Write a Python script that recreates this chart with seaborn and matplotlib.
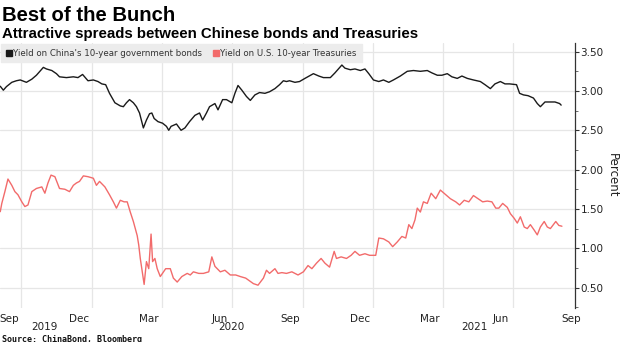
import numpy as np
import pandas as pd
import matplotlib
matplotlib.use("Agg")
import matplotlib.pyplot as plt
import matplotlib.dates as mdates
import matplotlib.transforms as mtransforms
from matplotlib.ticker import MultipleLocator
from matplotlib.lines import Line2D
import seaborn as sns

# ---------------- data ----------------
china_dates = [
    "2019-09-04", "2019-09-08", "2019-09-12", "2019-09-19", "2019-09-25", "2019-09-30",
    "2019-10-08", "2019-10-15", "2019-10-21", "2019-10-30", "2019-11-03", "2019-11-10",
    "2019-11-16", "2019-11-20", "2019-11-29", "2019-12-08", "2019-12-14", "2019-12-20",
    "2019-12-27", "2020-01-03", "2020-01-09", "2020-01-14", "2020-01-19", "2020-01-24",
    "2020-01-31", "2020-02-07", "2020-02-11", "2020-02-15", "2020-02-19", "2020-02-24",
    "2020-02-28", "2020-03-03", "2020-03-08", "2020-03-12", "2020-03-16", "2020-03-19",
    "2020-03-22", "2020-03-27", "2020-04-02", "2020-04-07", "2020-04-10", "2020-04-13",
    "2020-04-20", "2020-04-26", "2020-05-01", "2020-05-07", "2020-05-14", "2020-05-20",
    "2020-05-24", "2020-05-29", "2020-06-02", "2020-06-09", "2020-06-13", "2020-06-19",
    "2020-06-24", "2020-07-01", "2020-07-05", "2020-07-09", "2020-07-14", "2020-07-20",
    "2020-07-25", "2020-07-31", "2020-08-06", "2020-08-13", "2020-08-19", "2020-08-26",
    "2020-09-01", "2020-09-06", "2020-09-10", "2020-09-14", "2020-09-21", "2020-09-27",
    "2020-10-04", "2020-10-15", "2020-10-22", "2020-10-28", "2020-11-06", "2020-11-12",
    "2020-11-21", "2020-11-25", "2020-12-02", "2020-12-08", "2020-12-15", "2020-12-21",
    "2020-12-26", "2021-01-01", "2021-01-08", "2021-01-14", "2021-01-21", "2021-01-27",
    "2021-02-05", "2021-02-14", "2021-02-22", "2021-03-03", "2021-03-12", "2021-03-18",
    "2021-03-25", "2021-03-31", "2021-04-07", "2021-04-13", "2021-04-20", "2021-04-26",
    "2021-05-03", "2021-05-11", "2021-05-20", "2021-05-26", "2021-06-02", "2021-06-08",
    "2021-06-15", "2021-06-21", "2021-06-27", "2021-07-06", "2021-07-10", "2021-07-15",
    "2021-07-21", "2021-07-28", "2021-08-02", "2021-08-06", "2021-08-12", "2021-08-18",
    "2021-08-25", "2021-08-31", "2021-09-02",
]
china_yield = [
    3.06, 3.01, 3.055, 3.11, 3.13, 3.14,
    3.11, 3.15, 3.20, 3.30, 3.28, 3.26,
    3.22, 3.18, 3.17, 3.18, 3.17, 3.21,
    3.13, 3.14, 3.12, 3.09, 3.08, 2.97,
    2.85, 2.81, 2.80, 2.85, 2.89, 2.85,
    2.80, 2.72, 2.53, 2.63, 2.71, 2.72,
    2.65, 2.61, 2.59, 2.55, 2.50, 2.55,
    2.58, 2.50, 2.53, 2.61, 2.69, 2.72,
    2.63, 2.72, 2.80, 2.84, 2.76, 2.89,
    2.89, 2.85, 2.97, 3.07, 3.01, 2.93,
    2.88, 2.95, 2.98, 2.97, 2.99, 3.03,
    3.08, 3.13, 3.12, 3.13, 3.11, 3.12,
    3.16, 3.22, 3.19, 3.17, 3.17, 3.23,
    3.33, 3.29, 3.27, 3.28, 3.26, 3.28,
    3.22, 3.14, 3.12, 3.14, 3.11, 3.14,
    3.19, 3.25, 3.26, 3.25, 3.26, 3.23,
    3.20, 3.20, 3.22, 3.18, 3.16, 3.19,
    3.16, 3.14, 3.12, 3.08, 3.03, 3.09,
    3.12, 3.09, 3.09, 3.08, 2.97, 2.95,
    2.94, 2.91, 2.84, 2.80, 2.86, 2.86,
    2.86, 2.84, 2.82,
]

us_dates = [
    "2019-09-04", "2019-09-06", "2019-09-10", "2019-09-14", "2019-09-19", "2019-09-23",
    "2019-09-27", "2019-10-02", "2019-10-06", "2019-10-10", "2019-10-15", "2019-10-21",
    "2019-10-28", "2019-11-01", "2019-11-05", "2019-11-09", "2019-11-14", "2019-11-20",
    "2019-11-27", "2019-12-03", "2019-12-08", "2019-12-12", "2019-12-16", "2019-12-21",
    "2019-12-27", "2020-01-03", "2020-01-07", "2020-01-11", "2020-01-18", "2020-01-24",
    "2020-01-29", "2020-02-02", "2020-02-07", "2020-02-12", "2020-02-16", "2020-02-20",
    "2020-02-24", "2020-02-29", "2020-03-02", "2020-03-04", "2020-03-06", "2020-03-09",
    "2020-03-12", "2020-03-15", "2020-03-18", "2020-03-20", "2020-03-23", "2020-03-26",
    "2020-03-30", "2020-04-06", "2020-04-12", "2020-04-16", "2020-04-21", "2020-04-27",
    "2020-05-04", "2020-05-08", "2020-05-12", "2020-05-19", "2020-05-25", "2020-06-01",
    "2020-06-05", "2020-06-09", "2020-06-16", "2020-06-22", "2020-06-29", "2020-07-06",
    "2020-07-12", "2020-07-19", "2020-07-29", "2020-08-04", "2020-08-11", "2020-08-15",
    "2020-08-19", "2020-08-26", "2020-08-30", "2020-09-04", "2020-09-10", "2020-09-17",
    "2020-09-25", "2020-10-02", "2020-10-08", "2020-10-13", "2020-10-19", "2020-10-25",
    "2020-10-30", "2020-11-05", "2020-11-11", "2020-11-14", "2020-11-20", "2020-11-27",
    "2020-12-03", "2020-12-08", "2020-12-14", "2020-12-21", "2020-12-27", "2021-01-04",
    "2021-01-08", "2021-01-14", "2021-01-21", "2021-01-26", "2021-02-01", "2021-02-07",
    "2021-02-12", "2021-02-16", "2021-02-20", "2021-02-24", "2021-02-27", "2021-03-03",
    "2021-03-07", "2021-03-12", "2021-03-17", "2021-03-23", "2021-03-29", "2021-04-05",
    "2021-04-11", "2021-04-18", "2021-04-23", "2021-04-29", "2021-05-05", "2021-05-11",
    "2021-05-17", "2021-05-23", "2021-05-29", "2021-06-04", "2021-06-09", "2021-06-13",
    "2021-06-18", "2021-06-24", "2021-06-28", "2021-07-03", "2021-07-07", "2021-07-11",
    "2021-07-16", "2021-07-20", "2021-07-24", "2021-07-29", "2021-08-02", "2021-08-06",
    "2021-08-11", "2021-08-15", "2021-08-19", "2021-08-26", "2021-08-30", "2021-09-03",
]
us_yield = [
    1.465, 1.57, 1.72, 1.88, 1.80, 1.72,
    1.68, 1.59, 1.53, 1.55, 1.72, 1.76,
    1.78, 1.70, 1.83, 1.93, 1.91, 1.76,
    1.75, 1.72, 1.80, 1.83, 1.85, 1.92,
    1.91, 1.89, 1.80, 1.85, 1.78, 1.68,
    1.59, 1.51, 1.61, 1.59, 1.59, 1.46,
    1.34, 1.16, 1.04, 0.87, 0.74, 0.54,
    0.83, 0.74, 1.18, 0.83, 0.87, 0.74,
    0.64, 0.74, 0.74, 0.62, 0.57, 0.64,
    0.68, 0.66, 0.70, 0.68, 0.68, 0.70,
    0.89, 0.77, 0.70, 0.72, 0.66, 0.66,
    0.64, 0.62, 0.55, 0.53, 0.62, 0.72,
    0.68, 0.74, 0.68, 0.69, 0.68, 0.70,
    0.66, 0.70, 0.78, 0.74, 0.81, 0.87,
    0.81, 0.76, 0.96, 0.87, 0.89, 0.87,
    0.91, 0.96, 0.91, 0.93, 0.91, 0.91,
    1.13, 1.12, 1.08, 1.02, 1.08, 1.15,
    1.13, 1.30, 1.25, 1.36, 1.51, 1.46,
    1.59, 1.57, 1.70, 1.63, 1.74, 1.68,
    1.63, 1.59, 1.55, 1.61, 1.59, 1.67,
    1.63, 1.59, 1.60, 1.59, 1.51, 1.51,
    1.57, 1.52, 1.44, 1.38, 1.32, 1.40,
    1.27, 1.25, 1.30, 1.23, 1.17, 1.27,
    1.34, 1.27, 1.25, 1.34, 1.29, 1.28,
]

series_names = ["Yield on China's 10-year government bonds",
                "Yield on U.S. 10-year Treasuries"]
series_colors = ["#1a1a1a", "#f26b6b"]
y_ticks = [0.50, 1.00, 1.50, 2.00, 2.50, 3.00, 3.50]
month_ticks = ["2019-09-15", "2019-12-15", "2020-03-15", "2020-06-15", "2020-09-15",
               "2020-12-15", "2021-03-15", "2021-06-15", "2021-09-15"]
month_labels = ["Sep", "Dec", "Mar", "Jun", "Sep", "Dec", "Mar", "Jun", "Sep"]
grid_dates = ["2019-10-01", "2020-01-01", "2020-04-01", "2020-07-01", "2020-10-01",
              "2021-01-01", "2021-04-01", "2021-07-01"]
year_labels = ["2019", "2020", "2021"]
year_pos = ["2019-11-01", "2020-07-01", "2021-05-12"]

# ---------------- build long-form frame ----------------
df = pd.concat([
    pd.DataFrame({"date": pd.to_datetime(china_dates), "value": china_yield,
                  "series": series_names[0]}),
    pd.DataFrame({"date": pd.to_datetime(us_dates), "value": us_yield,
                  "series": series_names[1]}),
], ignore_index=True)

sns.set_style("white")
plt.rcParams["font.family"] = ["DejaVu Sans"]

fig = plt.figure(figsize=(6.2, 3.42), dpi=100)
AX_H = (308 - 43) / 342
ax = fig.add_axes([0.0, 34 / 342, 575 / 620, AX_H])

sns.lineplot(data=df, x="date", y="value", hue="series",
             palette=dict(zip(series_names, series_colors)),
             linewidth=1.0, ax=ax, legend=False, estimator=None, sort=True)

ax.set_xlim(pd.Timestamp("2019-09-03 16:00"), pd.Timestamp("2021-09-20"))
ax.set_ylim(0.24, 3.61)

# grid
for gd in grid_dates:
    ax.axvline(pd.Timestamp(gd), color="#e6e6e6", lw=0.9, zorder=0)
for yt in y_ticks:
    ax.axhline(yt, color="#e6e6e6", lw=0.9, zorder=0)

# y axis on the right
ax.yaxis.tick_right()
ax.yaxis.set_label_position("right")
ax.set_yticks(y_ticks)
ax.set_yticklabels([f"{v:.2f}" for v in y_ticks])
ax.yaxis.set_minor_locator(MultipleLocator(0.25))
ax.tick_params(axis="y", which="major", direction="out", length=3, width=0.8,
               color="#333333", labelsize=7.5, labelcolor="#222222", pad=1)
ax.tick_params(axis="y", which="minor", direction="out", length=2, width=0.6,
               color="#555555")
ax.set_ylabel("Percent", rotation=270, labelpad=11, fontsize=8.5, color="#222222")

# x axis
ax.set_xticks([pd.Timestamp(d) for d in month_ticks])
ax.set_xticklabels(month_labels)
ax.tick_params(axis="x", which="both", length=0, labelsize=7.5,
               labelcolor="#222222", pad=4)
ax.set_xlabel("")
trans = mtransforms.blended_transform_factory(ax.transData, ax.transAxes)
year_y = (308 - 322.5) / (308 - 43)
for lab, pos in zip(year_labels, year_pos):
    ax.text(pd.Timestamp(pos), year_y, lab, transform=trans, ha="center",
            va="top", fontsize=7.5, color="#222222")

for s in ["left", "top", "bottom"]:
    ax.spines[s].set_visible(False)
ax.spines["right"].set_color("#333333")
ax.spines["right"].set_linewidth(0.9)

# legend
handles = [Line2D([0], [0], marker="s", color="none", markerfacecolor=c,
                  markeredgecolor=c, markersize=4.5) for c in series_colors]
leg = ax.legend(handles, series_names, loc="upper left", ncol=2,
                bbox_to_anchor=(0.0, 1.0), frameon=True, fontsize=6.2,
                handlelength=0.7, handletextpad=0.2, columnspacing=1.2,
                borderpad=0.55, borderaxespad=0.1, fancybox=False)
leg.get_frame().set_facecolor("#ececec")
leg.get_frame().set_edgecolor("#ececec")
leg.get_frame().set_alpha(1.0)
for t in leg.get_texts():
    t.set_color("#333333")

# titles
fig.text(0.004, 1 - 21 / 342, "Best of the Bunch", fontsize=14.6, fontweight="bold",
         family=["Liberation Sans", "DejaVu Sans"], color="#000000", va="baseline")
fig.text(0.004, 1 - 38 / 342, "Attractive spreads between Chinese bonds and Treasuries",
         fontsize=10.8, fontweight="bold", family=["Liberation Sans", "DejaVu Sans"],
         color="#000000", va="baseline")
fig.text(0.004, 1 - 341.5 / 342, "Source: ChinaBond, Bloomberg", fontsize=6.0,
         fontweight="bold", family=["DejaVu Sans Mono"], color="#111111",
         va="baseline")

fig.savefig("out.png", dpi=100)
